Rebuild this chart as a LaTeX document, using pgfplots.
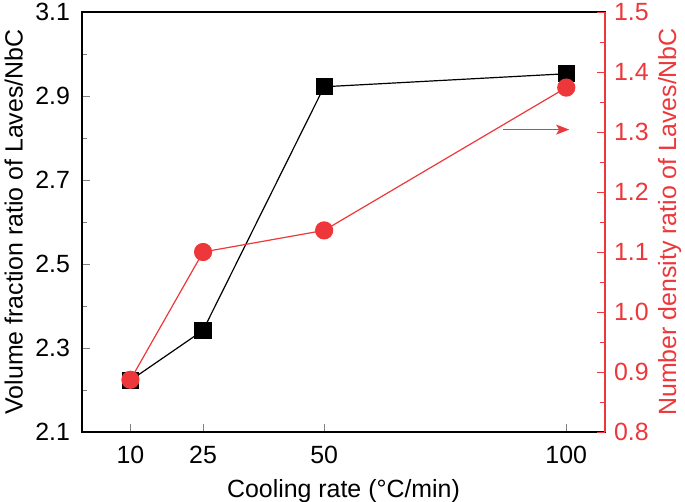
\documentclass[border=0pt]{standalone}
\usepackage{fontspec}
\setmainfont{Liberation Sans}
\usepackage{pgfplots}
\pgfplotsset{compat=1.18}
\usetikzlibrary{arrows.meta}
\definecolor{myred}{RGB}{237,55,58}
\begin{document}
\fontsize{25}{29}\selectfont
\begin{tikzpicture}
\pgfplotsset{every axis/.append style={
  scale only axis, width=523bp, height=420bp,
  xmin=0, xmax=108,
  tick align=inside, major tick length=8bp, minor tick length=5bp,
  /pgf/number format/assume math mode=true,
  font=\fontsize{25}{29}\selectfont,
  line width=1.6bp,
  yticklabel style={/pgf/number format/fixed, /pgf/number format/fixed zerofill, /pgf/number format/precision=1},
}}
\begin{axis}[
  ymin=2.1, ymax=3.1,
  ytick={2.1,2.3,2.5,2.7,2.9,3.1},
  minor y tick num=1,
  xtick={10,25,50,100},
  xtick pos=bottom, ytick pos=left,
  xlabel={Cooling rate (°C/min)},
  ylabel={Volume fraction ratio of Laves/NbC},
  xticklabel style={yshift=-5bp},
  yticklabel style={xshift=-3bp},
  xlabel style={yshift=2bp},
  ylabel style={yshift=-5bp},
]
\addplot[black, line width=1.2bp, mark=square*, mark size=8bp, mark options={solid}]
  coordinates {(10,2.223) (25,2.342) (50,2.922) (100,2.953)};
\end{axis}
\begin{axis}[
  axis x line=none,
  axis y line*=right,
  ymin=0.8, ymax=1.5,
  ytick={0.8,0.9,1.0,1.1,1.2,1.3,1.4,1.5},
  minor y tick num=1,
  y axis line style={myred},
  y tick style={myred},
  minor y tick style={myred},
  yticklabel style={myred, xshift=0bp},
  ylabel={Number density ratio of Laves/NbC},
  ylabel style={myred, yshift=8bp},
]
\addplot[myred, line width=1.2bp, mark=*, mark size=8.5bp, mark options={solid}]
  coordinates {(10,0.887) (25,1.10) (50,1.136) (100,1.374)};
\draw[myred, line width=1.6bp, -{Stealth[length=13bp,width=10bp,inset=3bp]}]
  (axis cs:87,1.304) -- (axis cs:100.6,1.304);
\end{axis}
\pgfresetboundingbox
\path[use as bounding box] (-82bp,-70bp) rectangle (603bp,432bp);
\end{tikzpicture}
\end{document}
